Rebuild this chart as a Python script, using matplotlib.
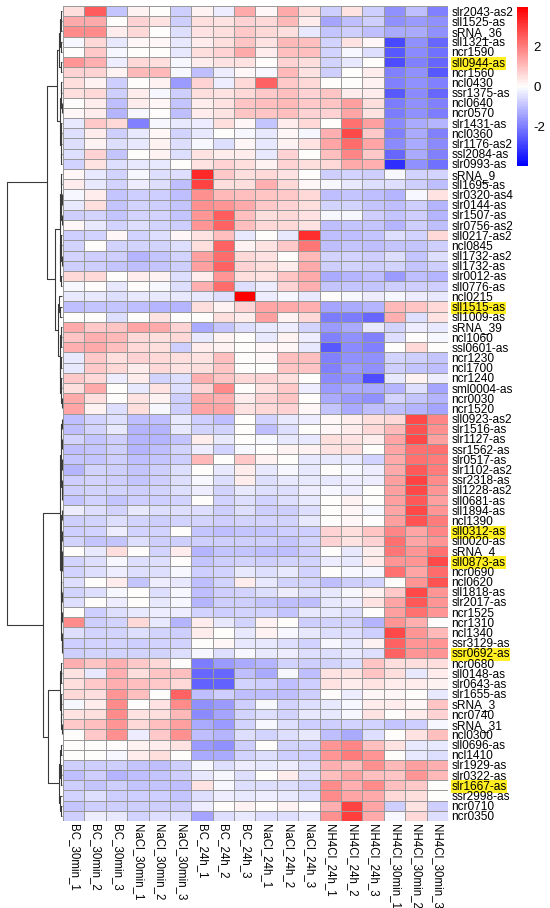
import numpy as np
import matplotlib
matplotlib.use("Agg")
import matplotlib.pyplot as plt
from matplotlib.colors import LinearSegmentedColormap

plt.rcParams['font.family'] = ['Liberation Sans', 'DejaVu Sans']
plt.rcParams['axes.unicode_minus'] = False

col_labels = ["BC_30min_1", "BC_30min_2", "BC_30min_3",
              "NaCl_30min_1", "NaCl_30min_2", "NaCl_30min_3",
              "BC_24h_1", "BC_24h_2", "BC_24h_3",
              "NaCl_24h_1", "NaCl_24h_2", "NaCl_24h_3",
              "NH4Cl_24h_1", "NH4Cl_24h_2", "NH4Cl_24h_3",
              "NH4Cl_30min_1", "NH4Cl_30min_2", "NH4Cl_30min_3"]

row_labels = ["slr2043-as2", "sll1525-as", "sRNA_36", "sll1321-as", "ncr1590",
              "sll0944-as", "ncr1560", "ncl0430", "ssr1375-as", "ncl0640",
              "ncr0570", "slr1431-as", "ncl0360", "slr1176-as2", "ssl2084-as",
              "slr0993-as", "sRNA_9", "sll1695-as", "slr0320-as4", "slr0144-as",
              "slr1507-as", "slr0756-as2", "sll0217-as2", "ncl0845", "sll1732-as2",
              "sll1732-as", "slr0012-as", "sll0776-as", "ncl0215", "sll1515-as",
              "sll1009-as", "sRNA_39", "ncl1060", "ssl0601-as", "ncr1230",
              "ncl1700", "ncr1240", "sml0004-as", "ncr0030", "ncr1520",
              "sll0923-as2", "slr1516-as", "slr1127-as", "ssr1562-as", "slr0517-as",
              "slr1102-as2", "ssr2318-as", "sll1228-as2", "sll0681-as", "sll1894-as",
              "ncl1390", "sll0312-as", "sll0020-as", "sRNA_4", "sll0873-as",
              "ncr0690", "ncl0620", "sll1818-as", "slr2017-as", "ncr1525",
              "ncr1310", "ncl1340", "ssr3129-as", "ssr0692-as", "ncr0680",
              "sll0148-as", "slr0643-as", "slr1655-as", "sRNA_3", "ncr0740",
              "sRNA_31", "ncl0300", "sll0696-as", "ncl1410", "slr1929-as",
              "slr0322-as", "slr1667-as", "ssr2998-as", "ncr0710", "ncr0350"]

highlighted = ["sll0944-as", "sll1515-as", "sll0312-as", "sll0873-as",
               "ssr0692-as", "slr1667-as"]

values = [
    [0.5, 2.5, -0.7, 0.2, 0, -0.6, 0.2, -0.2, 1.3, 0.1, 1.3, 0.5, -0.6, 0.4, -0.6, -1.3, -0.8, -1.5],
    [1.3, 1.3, 0, 0.7, 0.4, -0.6, 0.5, 0.4, 0.7, 0.6, 1.1, 0.3, -1.1, -0.8, -0.6, -1.3, -1.2, -1.3],
    [1.8, 1.8, 0.3, 0.6, 0, -0.4, 0.4, 0.5, 0.8, 0.6, 0.5, -0.3, -0.7, -0.6, -0.8, -1.0, -1.0, -1.3],
    [-0.1, 0.6, -0.3, 0.1, 0.1, -0.3, 0.3, 0.5, 0.9, 0.4, 1.1, 1.0, -0.5, 0.4, 0.1, -2.2, -1.3, -1.8],
    [0, 0.8, -0.1, 0, 0, -0.3, 0.5, 0.7, 1.3, 0.3, 1.0, 1.0, -0.5, -0.1, -0.4, -2.0, -1.4, -1.7],
    [1.6, 1.2, -0.2, 0.6, 0.5, -0.1, 0.3, 0.4, 0.4, 0, 0.7, 0.5, -0.5, -0.3, 0, -2.1, -1.5, -1.8],
    [0.7, 0.7, 0.2, 1.1, 1.1, -0.1, -0.8, -0.2, 0.1, -0.1, 1.1, 0.4, -0.6, 0, 0.3, -1.5, -1.3, -2.0],
    [0.5, 0.2, -0.6, 0, 0.2, -1.2, 0.7, -0.2, 0.6, 2.4, 0.8, 0.6, 0, 0, 0.2, -1.5, -1.3, -1.5],
    [0.5, 0.6, -0.6, 0.3, -0.1, -0.6, 0.5, 0.4, 0.6, 0.8, 1.0, 0.7, 0.9, 0.3, 0.3, -2.0, -1.4, -1.8],
    [0, 0.3, -0.8, 0.3, 0.1, -0.7, 0.3, 0.4, 0.9, 1.0, 1.1, 0.8, 0.9, 1.5, 0.5, -1.6, -1.3, -1.5],
    [0.1, 0.3, -0.9, -0.1, 0, -0.8, 0.3, 0.4, 0.9, 0.9, 1.0, 0.7, 0.7, 1.4, 0.4, -1.6, -1.3, -1.6],
    [-0.3, 0.8, 0.6, -1.5, -0.1, -0.3, -0.2, 0.5, 0.1, -0.7, 0.3, 0.6, 0, 2.2, 1.5, -1.4, -1.0, -0.9],
    [-0.4, 0.3, -0.6, -0.3, 0.1, -0.5, -0.3, 0, -0.1, -0.3, 0.1, -0.1, 1.2, 2.8, 0.8, -1.5, -1.0, -1.5],
    [-0.4, 0.2, -0.4, -0.3, 0.2, -0.4, -0.1, -0.4, 0.1, -0.3, 0.2, 0.4, 1.4, 2.3, 1.4, -1.4, -1.0, -1.4],
    [-0.4, 0.7, -0.7, 0, 0.2, -0.4, 0.4, 0.3, 0.3, -0.3, 0.7, 0, 1.0, 1.9, 0.8, -1.8, -1.0, -1.5],
    [-0.5, 0.4, -0.4, -0.3, -0.3, 0, 0.4, 0.7, 0.5, 0.2, 0.7, 0.5, 0.6, 1.3, 1.2, -2.5, -1.3, -1.7],
    [0.1, -0.3, -0.5, -0.1, -0.4, -0.4, 3.3, 0.8, 0.5, 0.6, 0.4, 0, -0.6, -0.5, -0.6, -0.1, -0.5, -0.5],
    [0.3, -0.3, -0.5, -0.2, -0.4, -0.8, 2.9, 0.5, 0.5, 1.2, 0.6, 0.1, -0.1, -0.3, -0.4, -0.4, -0.6, -0.8],
    [-0.1, 0.3, -0.7, -0.6, -0.6, -0.8, 1.7, 1.1, 1.0, 0.9, 0.8, 0.6, -0.8, -0.7, -0.8, -0.9, -0.1, 0.4],
    [-0.3, 0.5, -0.7, -0.5, -0.6, -0.7, 1.7, 1.6, 1.3, 0.8, 0.7, 0.5, -0.5, -0.5, -0.7, -0.8, -0.6, -0.9],
    [-0.6, -0.5, -0.7, -0.5, -0.5, -0.7, 1.6, 2.5, 1.0, 0.5, 0.6, 0.4, -0.1, -0.1, -0.6, -0.7, -0.6, -0.9],
    [0.1, -0.3, -0.5, -0.4, -0.5, -0.6, 1.6, 2.4, 1.0, 0.6, 0.6, 0.4, -0.8, -0.7, -0.7, -0.9, -0.6, -0.8],
    [-0.6, -0.5, 0.1, -0.5, -0.4, 0.1, 0.4, 1.0, -0.3, 0, -0.3, 3.2, -0.8, -0.8, -0.7, -0.4, -0.5, 0.6],
    [-0.5, 0, -0.5, -0.5, -0.5, -0.4, 0.5, 2.4, 0.2, 0.4, 0.8, 2.1, -0.8, -0.7, -0.8, -0.7, -0.7, -0.6],
    [-0.5, -0.6, -0.6, -0.9, -0.7, -0.5, 1.5, 2.3, 0.6, 0.4, 0, 1.1, -0.5, -0.5, -0.6, -0.4, -0.7, -0.4],
    [-0.6, -0.6, -0.7, -0.8, -0.7, -0.6, 1.5, 2.4, 0.7, 0.5, 0.3, 1.3, -0.6, -0.5, -0.6, -0.5, -0.7, -0.6],
    [0.6, 0.6, 0, 0.3, 0.2, -0.4, 0.3, 1.6, 0.5, 0.4, 0.9, 1.3, -1.0, -0.9, -0.8, -1.2, -0.8, -0.9],
    [-0.1, 0, -0.3, 0, -0.1, -0.4, 1.2, 2.3, -0.4, -0.2, 0.7, 1.2, -0.7, -0.7, -0.7, -0.6, -0.6, -0.6],
    [-0.3, -0.3, -0.4, -0.3, -0.3, -0.3, -0.3, -0.4, 4.0, -0.2, -0.1, -0.3, 0, -0.1, -0.2, -0.1, -0.2, -0.3],
    [-0.8, -0.7, -0.7, -0.8, -0.9, -0.9, 0.5, 0.2, 0.7, 1.4, 1.3, 1.2, -1.1, -1.0, -0.9, 1.1, 0.9, 0.6],
    [0, 0, -0.4, 0, 0.4, 0, 0, 0.5, 0.3, 1.5, 0.2, 0.6, -1.6, -1.6, -1.8, 1.2, -0.4, 0.4],
    [1.3, 0.8, 0.9, 1.4, 1.3, 0.7, -1.0, -0.7, -0.4, -0.3, -0.2, -0.5, -1.2, -1.0, -0.3, -0.5, -0.2, -0.3],
    [0.9, 1.2, 1.1, 0.6, 0.5, 0.6, -0.3, 0.2, 0, -0.3, 0.2, -0.2, -1.5, -1.3, -1.5, -0.4, 0, -0.1],
    [1.2, 1.3, 1.0, 0.6, 0.5, -0.6, 0.3, 0.2, 0, 0.1, 0.1, -0.3, -2.0, -1.4, -1.5, 0, 0.6, 0],
    [-0.3, 0.8, 0.5, 0.7, 0.6, 0.5, 0.4, 1.0, 0, 0.1, 1.0, 1.0, -1.5, -1.3, -1.3, -0.5, -0.6, -0.7],
    [-0.3, 0.8, 0.6, 0.3, 0.6, 0.4, 0.5, 0.9, 0, 0, 0.9, 0.9, -1.5, -1.2, -1.3, -0.6, -0.7, -0.8],
    [0.8, 0.6, -0.2, 0.3, -0.5, -0.4, 1.2, 0.9, 0.6, 0.7, 0.5, 0, -1.4, -1.3, -2.1, -0.3, 0.2, -0.2],
    [0.5, 1.3, 0, -0.3, 0.4, -0.4, 0.7, 1.8, 0, 0.4, 0.8, -0.2, -1.2, -1.0, -1.0, -0.9, -0.4, -1.1],
    [1.3, 0.5, 0, 0.4, 0.2, -0.6, 1.3, 1.2, 0.3, 0.7, 0.9, 0, -1.0, -1.2, -1.3, -0.5, -0.7, -0.9],
    [1.4, 0.2, -0.4, 0.5, -0.1, -0.6, 1.4, 1.4, 0.4, 0.6, 0.7, 0.1, -0.7, -1.0, -0.8, -0.8, -0.9, -1.1],
    [-0.8, -0.5, -0.4, -0.8, -0.8, -0.3, -0.6, -0.8, 0, -0.5, -0.3, -0.2, 0.1, 0.3, 0.5, 0.6, 2.8, 1.9],
    [-0.8, -0.5, -0.3, -0.9, -0.9, -0.3, -0.5, -0.5, 0, -0.8, -0.4, 0, 0.1, 0.3, 0.6, 1.1, 2.7, 1.7],
    [-0.5, -0.7, -0.6, -0.9, -0.9, -0.7, 0.3, -0.3, 0, -0.1, -0.3, -0.3, 0.5, 0.4, 0.3, 1.4, 2.8, 1.5],
    [-0.8, -0.7, -0.6, -0.9, -0.8, -0.5, -0.2, -0.5, -0.1, 0, 0.2, 0.2, 0.4, 0.5, 0, 1.4, 2.2, 2.2],
    [-0.7, -0.7, -0.6, -0.8, -0.7, -0.6, 1.1, 0, 0.8, 0.2, 0, -0.3, -0.3, -0.3, -0.5, 1.3, 2.2, 2.0],
    [-0.9, -0.5, -0.6, -0.7, -0.6, -0.4, 0, -0.3, 0.3, -0.3, -0.1, -0.3, 0, -0.1, -0.2, 1.3, 2.6, 2.0],
    [-0.6, -0.5, -0.6, -0.7, -0.6, -0.4, -0.1, -0.4, 0.3, -0.4, -0.3, -0.3, -0.3, -0.2, -0.2, 1.5, 2.9, 1.8],
    [-0.6, -0.5, -0.5, -0.6, -0.5, -0.4, -0.2, -0.5, -0.3, -0.4, -0.4, -0.2, -0.1, -0.2, 0, 1.5, 2.8, 1.6],
    [-0.7, -0.5, -0.7, -0.6, -0.6, -0.5, 0, -0.5, -0.4, -0.5, -0.4, -0.3, 0, 0.2, 0, 1.5, 2.6, 1.5],
    [-0.2, -0.4, -0.5, -0.3, -0.4, -0.4, -0.4, -0.6, -0.4, -0.6, -0.6, -0.4, 0, 0.1, -0.1, 1.4, 2.8, 1.6],
    [-0.6, -0.5, -0.4, -0.5, -0.6, -0.5, -0.5, -0.6, -0.5, -0.5, -0.5, -0.3, 0, 0.1, 0, 1.5, 2.7, 2.0],
    [-0.6, -0.5, -0.2, -0.5, -0.5, 0, -0.7, -0.8, -0.7, -0.7, -0.6, -0.6, 0.7, 0.5, 0.9, 1.9, 1.4, 1.9],
    [-0.5, -0.7, -0.7, -0.4, -0.6, -0.6, -0.6, -0.6, -0.6, -0.6, -0.7, -0.5, 0.7, 0.4, 0.7, 2.2, 1.4, 1.6],
    [0, -0.3, 0.5, 0, -0.5, 0.3, -0.9, -0.7, -0.7, -0.8, -0.8, -0.6, 0, -0.3, 0.3, 2.1, 1.6, 2.2],
    [-0.5, -0.4, -0.1, -0.4, -0.4, 0, -0.7, -0.6, -0.5, -0.6, -0.5, -0.5, -0.2, -0.3, 0.3, 1.6, 1.6, 2.8],
    [-0.5, -0.4, -0.2, -0.4, -0.4, -0.1, -0.6, -0.5, -0.3, -0.4, -0.3, -0.5, 0, -0.1, -0.1, 2.2, 1.4, 2.3],
    [-0.4, 0, 0.3, -0.7, -0.2, -0.3, -0.8, -0.5, 0.3, -0.3, -0.5, -0.5, -0.8, -0.6, -0.5, 0, 1.6, 2.7],
    [-0.5, -0.4, -0.1, 0, -0.4, -0.1, -0.8, -0.6, -0.5, -0.4, -0.2, -0.4, -0.3, -0.1, 0.2, 0.8, 2.8, 1.6],
    [-0.4, 0, -0.2, 0, -0.3, -0.1, -0.9, -0.6, -0.6, -0.7, -0.8, -0.8, -0.3, -0.2, 0.4, 1.4, 2.6, 1.6],
    [0, -0.6, -0.4, -0.3, -0.2, -0.2, -0.5, -0.6, -0.5, -0.5, -0.7, -0.3, -0.3, -0.4, 0, 1.5, 2.2, 1.6],
    [1.8, -0.6, -0.5, 0.6, -0.3, -0.9, 0.3, -0.3, -0.5, 0.2, 0, -0.6, -0.5, -0.5, -0.9, 1.6, 1.2, 0],
    [-0.4, -0.5, -0.5, -0.4, -0.5, -0.6, 0.3, 0, -0.3, 0.2, -0.1, -0.3, -0.4, -0.4, -0.6, 2.8, 1.6, 1.1],
    [-0.6, -0.5, -0.5, -0.6, -0.5, -0.5, 0, 0.1, -0.3, -0.3, -0.4, -0.5, -0.1, -0.3, 0.2, 2.4, 1.6, 1.6],
    [-0.6, -0.5, -0.5, -0.5, -0.5, -0.4, -0.1, -0.4, -0.1, -0.3, -0.2, -0.4, -0.4, -0.3, -0.4, 2.4, 1.6, 1.6],
    [1.2, 0.9, 1.2, 0.8, 0.6, 0, -1.6, -1.2, -1.0, -0.9, -0.5, -0.6, -0.5, -0.4, 0.9, 0.5, 0.5, 0.5],
    [0.4, -0.3, 1.2, 0.5, 0.9, 1.0, -1.8, -1.8, -0.8, -1.0, -0.1, -0.8, 0.4, 0.4, 0.9, 0.5, -0.3, 0.3],
    [0.5, 0.8, 1.2, 1.0, 0.8, 0.6, -1.9, -1.9, -0.5, -0.6, -0.8, -0.6, 0.4, 0.3, 0.4, 0.3, 0.3, 0.2],
    [0.6, 0.5, 1.6, 1.0, 0, 2.4, -0.8, -0.6, -0.8, -0.8, -0.8, -0.6, 0, -0.2, 0.1, 0.1, 0, -0.3],
    [-0.1, 0.3, 1.8, 0, 0.4, 1.8, -1.3, -1.2, -0.6, -0.1, -0.5, -0.4, -0.3, -0.1, 0.3, 0.3, 0.1, 0.9],
    [0.4, 0.5, 1.8, 0.4, 0.5, 1.1, -1.4, -1.1, -0.5, -0.4, -0.5, -0.3, -0.3, -0.1, 0.4, 0, 0.3, 0.7],
    [0.8, 1.0, 1.6, 0.6, 1.0, 1.5, -1.0, -1.2, -0.5, -0.1, -0.4, -0.6, -0.6, -0.5, -0.5, -0.7, -0.6, -0.1],
    [0, 0.8, 1.7, -0.2, 0.8, 1.7, -0.8, -0.9, -0.4, -0.5, -0.4, -0.3, -0.8, -1.0, -0.4, 0, 0.4, 1.0],
    [0, 0, 0, 0.2, 0.3, 0.4, -1.2, -1.3, -0.6, 0, -0.5, -0.5, 1.6, 1.9, 1.0, 0.4, -0.3, -0.3],
    [0, 0, -0.1, 0.3, 0.5, 0, -1.0, -1.0, -0.5, -0.4, -0.6, -0.6, 1.6, 2.0, 1.6, 0, -0.3, -0.4],
    [-0.6, -0.6, -0.6, -0.7, -0.8, -0.6, -0.1, -0.4, -0.2, -0.3, -0.2, -0.4, 1.2, 1.0, 1.7, 1.1, 1.5, 1.2],
    [-0.8, -0.6, -0.9, -0.8, -0.7, -0.6, -0.3, -0.1, -0.4, 0, 0.3, -0.4, 1.0, 1.4, 1.0, 0.9, 1.6, 1.1],
    [-0.6, -0.7, -0.6, -0.7, -0.7, -0.8, 0.4, -0.1, -0.4, -0.4, -0.4, -0.5, 1.8, 1.2, 1.8, 1.0, 0.8, 0],
    [-0.5, -0.4, -0.6, -0.6, -0.6, -0.7, -0.4, -0.2, -0.3, -0.2, -0.3, -0.4, 1.8, 1.4, 1.3, 0.6, 0.5, 0],
    [-0.7, -0.6, -0.6, -0.6, -0.6, -0.6, -0.2, 0, 0.2, 0, 0.2, 0, 1.2, 2.9, 1.4, -0.6, 0.4, -0.6],
    [-0.6, -0.2, -0.3, -0.5, -0.4, -0.4, -1.1, -0.4, -0.3, -0.4, -0.4, -0.3, 1.7, 3.0, 1.3, -0.1, 0.6, -0.4],
]

# my readings of the blue cells came out too pale against the colour key
blue_reading_factor = 1.3

# row tree: [height, left, right], leaves are row indices (top to bottom)
u1 = [0.96,
      [0.5, [0.3, [0.15, 0, [0.1, 1, 2]], [0.12, 3, 4]], [0.2, 5, 6]],
      [0.36, [0.2, [0.1, 7, 8], [0.08, 9, 10]],
       [0.25, [0.15, 11, [0.1, 12, 13]], [0.12, 14, 15]]]]
u2 = [1.27,
      [0.36, [0.25, [0.12, 16, 17], [0.15, [0.08, 18, 19], [0.06, 20, 21]]],
       [0.3, [0.2, 22, [0.1, 23, [0.05, 24, 25]]], [0.15, 26, 27]]],
      [0.67, [0.5, 28, [0.35, 29, 30]],
       [0.45, [0.25, 31, [0.12, 32, 33]],
        [0.3, [0.1, 34, 35], [0.2, [0.1, 36, 37], [0.08, 38, 39]]]]]]
l1 = [0.3,
      [0.2, [0.12, [0.06, 40, 41], [0.05, 42, 43]],
       [0.1, [0.05, 44, 45], [0.07, 46, [0.04, 47, 48]]]],
      [0.25, [0.15, [0.06, 49, 50], [0.1, [0.05, 51, 52], [0.06, 53, [0.04, 54, 55]]]],
       [0.18, [0.1, 56, [0.05, 57, 58]], [0.12, [0.08, 59, 60], [0.05, 61, [0.03, 62, 63]]]]]]
l2 = [2.5,
      [0.35, [0.25, 64, [0.15, 65, 66]], [0.2, [0.1, 67, 68], [0.12, 69, [0.06, 70, 71]]]],
      [0.55, [0.3, [0.1, 72, 73], [0.2, [0.1, 74, 75], 76]], [0.35, 77, [0.2, 78, 79]]]]
row_tree = [10.0, [2.8, u1, u2], [3.45, l1, l2]]

data = np.array(values)
data = np.where(data < 0, data * blue_reading_factor, data)
n_rows, n_cols = data.shape

W, H = 550, 908
fig = plt.figure(figsize=(W / 100, H / 100), dpi=100)

top, bottom = 6, 821
ax = fig.add_axes([63 / W, 1 - bottom / H, 385 / W, (bottom - top) / H])
cmap = LinearSegmentedColormap.from_list("bwr_ph", ["#0000FF", "#FFFFFF", "#FF0000"], N=100)
mesh = ax.pcolormesh(np.arange(n_cols + 1), np.arange(n_rows + 1), data, cmap=cmap,
                     vmin=-4, vmax=4, edgecolors="#9a9a9a", linewidth=0.5)
ax.set_xlim(0, n_cols)
ax.set_ylim(n_rows, 0)
for s in ax.spines.values():
    s.set_visible(False)

ax.yaxis.tick_right()
ax.set_yticks(np.arange(n_rows) + 0.5)
ax.set_yticklabels(row_labels, fontsize=8.6)
ax.set_xticks(np.arange(n_cols) + 0.5)
ax.set_xticklabels(col_labels, fontsize=8.3, rotation=-90, va="top", ha="center")
ax.tick_params(length=0, pad=2.5)
for lab in ax.get_yticklabels():
    if lab.get_text() in highlighted:
        lab.set_bbox(dict(facecolor="#FFEE22", edgecolor="none", pad=0.3))

# dendrogram
dax = fig.add_axes([0, 1 - bottom / H, 62 / W, (bottom - top) / H])


def draw_tree(node):
    if isinstance(node, int):
        return node + 0.5, 0.0
    h, left, right = node
    yl, hl = draw_tree(left)
    yr, hr = draw_tree(right)
    dax.plot([hl, h, h, hr], [yl, yl, yr, yr], color="#3a3a3a", lw=0.8,
             solid_capstyle="butt", clip_on=False)
    return (yl + yr) / 2, h


draw_tree(row_tree)
dax.set_xlim(row_tree[0] * 62 / 55, 0)
dax.set_ylim(n_rows, 0)
dax.axis("off")

# colour bar
cax = fig.add_axes([517 / W, 1 - 166 / H, 11 / W, 159 / H])
cb = fig.colorbar(mesh, cax=cax, ticks=[-2, 0, 2])
cb.outline.set_visible(False)
cb.ax.tick_params(length=0, labelsize=9.5, pad=4)
cb.ax.set_yticklabels(["-2", "0", "2"])

fig.savefig("out.png", dpi=100)
